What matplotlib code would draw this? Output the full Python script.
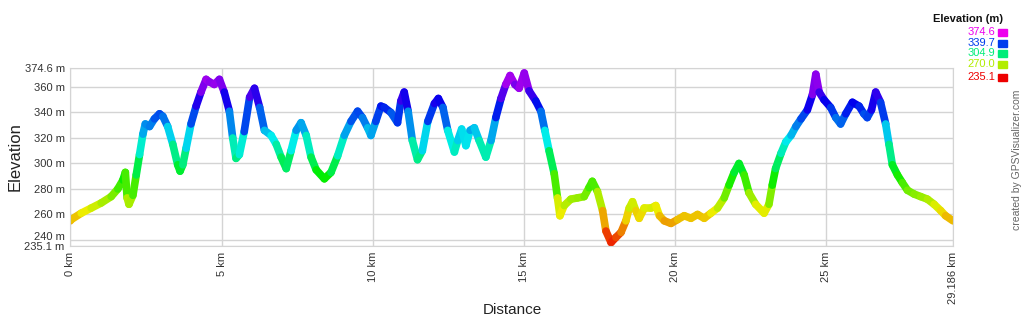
# Elevation profile (GPSVisualizer style) coloured by elevation
import numpy as np
import matplotlib.pyplot as plt
from matplotlib.collections import LineCollection
from matplotlib.colors import ListedColormap, Normalize, hsv_to_rgb
from matplotlib.transforms import offset_copy

plt.rcParams['font.family'] = ['Liberation Sans', 'DejaVu Sans']

# data (distance in km, elevation in m)
dist_km = [0.00, 0.03, 0.36, 0.69, 1.02, 1.35, 1.57, 1.74, 1.82, 1.88, 1.94, 2.07, 2.18, 2.29,
           2.40, 2.48, 2.62, 2.78, 2.95, 3.06, 3.22, 3.39, 3.55, 3.63, 3.72, 3.83, 3.99, 4.16,
           4.32, 4.49, 4.60, 4.76, 4.93, 5.09, 5.26, 5.37, 5.48, 5.59, 5.75, 5.93, 6.09, 6.26,
           6.42, 6.64, 6.81, 6.97, 7.14, 7.30, 7.47, 7.63, 7.80, 7.96, 8.13, 8.40, 8.62, 8.84,
           9.06, 9.28, 9.50, 9.66, 9.83, 9.94, 10.10, 10.27, 10.38, 10.60, 10.82, 10.93, 11.04,
           11.17, 11.31, 11.48, 11.64, 11.82, 12.04, 12.17, 12.32, 12.48, 12.70, 12.81, 12.94,
           13.08, 13.22, 13.36, 13.52, 13.74, 13.91, 14.07, 14.24, 14.40, 14.54, 14.70, 14.84,
           15.01, 15.17, 15.39, 15.56, 15.69, 15.83, 16.00, 16.11, 16.19, 16.33, 16.55, 16.77,
           16.99, 17.15, 17.26, 17.43, 17.60, 17.71, 17.88, 18.04, 18.21, 18.37, 18.48, 18.59,
           18.70, 18.81, 18.98, 19.20, 19.36, 19.48, 19.64, 19.86, 20.08, 20.30, 20.52, 20.74,
           20.96, 21.18, 21.40, 21.62, 21.78, 21.95, 22.11, 22.28, 22.44, 22.66, 22.94, 23.10,
           23.21, 23.32, 23.50, 23.66, 23.83, 23.99, 24.16, 24.37, 24.54, 24.65, 24.76, 24.92,
           25.14, 25.31, 25.47, 25.64, 25.86, 26.08, 26.24, 26.35, 26.49, 26.63, 26.79, 26.96,
           27.07, 27.18, 27.35, 27.51, 27.68, 27.90, 28.12, 28.34, 28.56, 28.78, 28.94, 29.186]
elev_m = [255, 256, 261, 265, 269, 274, 280, 287, 293, 273, 268, 275, 291, 307,
          323, 331, 329, 335, 339, 337, 329, 315, 299, 294, 299, 312, 331, 345,
          356, 366, 364, 362, 366, 356, 341, 320, 304, 307, 325, 352, 359, 344,
          326, 322, 315, 305, 296, 310, 326, 332, 322, 305, 295, 288, 293, 306,
          322, 333, 341, 336, 328, 322, 333, 345, 344, 340, 332, 349, 356,
          341, 318, 303, 310, 333, 347, 351, 344, 326, 309, 318, 327,
          314, 326, 328, 318, 305, 318, 336, 351, 362, 369, 362, 359,
          371, 357, 349, 341, 326, 310, 292, 273, 259, 267, 272, 273,
          274, 281, 286, 278, 263, 247, 238, 242, 246, 255, 265, 270,
          263, 257, 265, 265, 267, 259, 255, 253, 256, 259, 257, 260,
          257, 261, 265, 273, 283, 293, 300, 291, 277, 268, 261, 268,
          283, 296, 308, 317, 322, 329, 335, 342, 354, 370, 356, 350,
          344, 336, 331, 339, 348, 345, 339, 336, 342, 356, 348, 331,
          315, 299, 291, 285, 279, 276, 274, 272, 268, 263, 259, 255]

elev_min, elev_max = 235.1, 374.6
dist_max = 29.186
ytick_vals = [235.1, 240, 260, 280, 300, 320, 340, 360, 374.6]
xtick_vals = [0, 5, 10, 15, 20, 25, 29.186]
legend_vals = ["374.6", "339.7", "304.9", "270.0", "235.1"]

# red -> magenta hue scale
hues = np.linspace(0, 300 / 360, 256)
cmap = ListedColormap(hsv_to_rgb(np.column_stack([hues, np.ones(256), np.full(256, 0.93)])))
norm = Normalize(elev_min, elev_max)

fig = plt.figure(figsize=(10.24, 3.17), dpi=100)
ax = fig.add_axes([70.3 / 1024, 70.8 / 317, (953 - 70.3) / 1024, (246.2 - 68.4) / 317])

x = np.array(dist_km)
y = np.array(elev_m, dtype=float)
pts = np.column_stack([x, y]).reshape(-1, 1, 2)
segs = np.concatenate([pts[:-1], pts[1:]], axis=1)
lc = LineCollection(segs, cmap=cmap, norm=norm, linewidths=5.5, capstyle='round', joinstyle='round')
lc.set_array((y[:-1] + y[1:]) / 2)
ax.add_collection(lc)

ax.set_xlim(0, dist_max)
ax.set_ylim(elev_min, elev_max)

ax.set_yticks(ytick_vals)
ax.set_yticklabels([f"{v:g} m" for v in ytick_vals], fontsize=8, color='#333333')
ax.set_xticks(xtick_vals)
ax.set_xticklabels([f"{v:g} km" for v in xtick_vals], fontsize=8, color='#333333', rotation=90)
ax.tick_params(length=0, pad=4)
# nudge the 240 m label up so it clears 235.1 m
lab240 = ax.get_yticklabels()[1]
lab240.set_transform(offset_copy(lab240.get_transform(), fig=fig, y=3.5, units='dots'))
ax.grid(True, color='#d4d4d4', linewidth=1)
ax.set_axisbelow(True)
for s in ax.spines.values():
    s.set_color('#d4d4d4')

fig.text(512 / 1024, 1 - 310 / 317, "Distance", fontsize=11, color='#222222', ha='center', va='center')
fig.text(15 / 1024, 1 - 157 / 317, "Elevation", fontsize=12, color='#222222', rotation=90,
         ha='center', va='center')

# legend block top right
fig.text(1003 / 1024, 1 - 19 / 317, "Elevation (m)", fontsize=8, fontweight='bold',
         ha='right', va='center', color='#111111')
legend_y = [32, 43, 53.5, 64, 77]
for lab, ly in zip(legend_vals, legend_y):
    c = cmap(norm(float(lab)))
    fig.text(995 / 1024, 1 - ly / 317, lab, fontsize=8, ha='right', va='center', color=c)
    fig.patches.append(plt.Rectangle((998 / 1024, 1 - (ly + 3.5) / 317), 9 / 1024, 7 / 317,
                                     transform=fig.transFigure, color=c))

fig.text(1017 / 1024, 1 - 160 / 317, "created by GPSVisualizer.com", fontsize=7.5,
         rotation=90, ha='center', va='center', color='#666666')

fig.savefig("out.png", dpi=100)
